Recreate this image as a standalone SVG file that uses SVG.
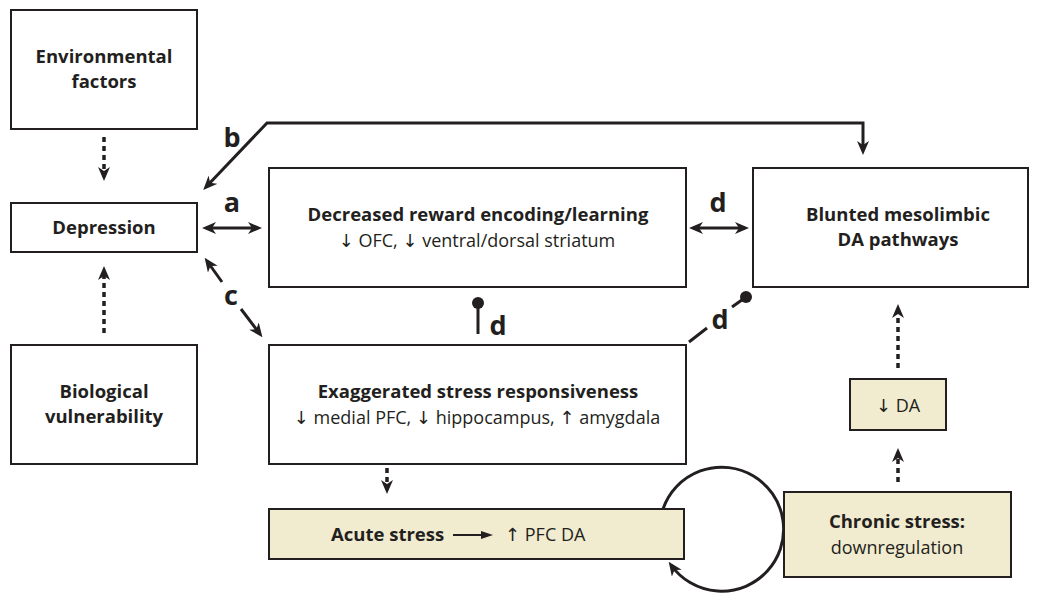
<svg xmlns="http://www.w3.org/2000/svg" width="1038" height="596" viewBox="0 0 1038 596">
<defs>
<style>
.box{fill:#ffffff;stroke:#231f20;stroke-width:2}
.tan{fill:#f1ebcf;stroke:#231f20;stroke-width:2}
.t{font-family:"Open Sans","Liberation Sans",sans-serif;fill:#231f20;text-anchor:middle}
.b{font-weight:bold;font-size:18.5px}
.n{font-size:18px}
.ar{font-family:"DejaVu Sans",sans-serif;font-size:18px}
.lbl{font-family:"Open Sans","Liberation Sans",sans-serif;font-weight:bold;font-size:27px;fill:#231f20;text-anchor:middle}
.c{fill:none;stroke:#231f20;stroke-width:3}
.dot{fill:none;stroke:#231f20;stroke-width:3.5;stroke-dasharray:5 4}
</style>
<marker id="ah" viewBox="0 0 14 12" refX="10" refY="6" markerWidth="14" markerHeight="12" markerUnits="userSpaceOnUse" orient="auto-start-reverse">
<path d="M0,0 L14,6 L0,12 L4,6 z" fill="#231f20"/>
</marker>
</defs>

<g id="connectors">
<path class="dot" d="M104 137 V177" marker-end="url(#ah)"/>
<path class="dot" d="M104 333 V270" marker-end="url(#ah)"/>
<path class="c" d="M206 187 L267 123 H863 V151" marker-start="url(#ah)" marker-end="url(#ah)"/>
<path class="c" d="M206 228 H258" marker-start="url(#ah)" marker-end="url(#ah)"/>
<path class="c" d="M693 228 H745" marker-start="url(#ah)" marker-end="url(#ah)"/>
<path class="c" d="M207 261 L222 282" marker-start="url(#ah)"/>
<path class="c" d="M241 309 L260 334" marker-end="url(#ah)"/>
<path class="c" d="M478 303 V334"/>
<circle cx="478" cy="303" r="6" fill="#231f20"/>
<path class="c" d="M689 342 L707 328"/>
<path class="c" d="M732 307 L746 297"/>
<circle cx="746" cy="297" r="6" fill="#231f20"/>
<path class="dot" d="M387 468 V490" marker-end="url(#ah)"/>
<path class="dot" d="M898 368 V308" marker-end="url(#ah)"/>
<path class="dot" d="M898 482 V452" marker-end="url(#ah)"/>
<path class="c" d="M663 509 A62 62 0 1 1 671 565" marker-end="url(#ah)"/>
<text class="lbl" x="232" y="147">b</text>
<text class="lbl" x="232" y="212">a</text>
<text class="lbl" x="718" y="212">d</text>
<text class="lbl" x="231" y="305">c</text>
<text class="lbl" x="498" y="335">d</text>
<text class="lbl" x="720" y="329">d</text>
</g>

<g id="env">
<rect class="box" x="11" y="10" width="186" height="119"/>
<text class="t b" x="104" y="63">Environmental</text>
<text class="t b" x="104" y="88">factors</text>
</g>
<g id="depression">
<rect class="box" x="11" y="203" width="186" height="49"/>
<text class="t b" x="104" y="234">Depression</text>
</g>
<g id="bio">
<rect class="box" x="11" y="345" width="186" height="119"/>
<text class="t b" x="104" y="398">Biological</text>
<text class="t b" x="104" y="423">vulnerability</text>
</g>
<g id="reward">
<rect class="box" x="269" y="168" width="417" height="119"/>
<text class="t b" x="478" y="221">Decreased reward encoding/learning</text>
<text class="t n" x="477" y="247"><tspan class="ar">↓</tspan> OFC, <tspan class="ar">↓</tspan> ventral/dorsal striatum</text>
</g>
<g id="blunted">
<rect class="box" x="753" y="168" width="275" height="119"/>
<text class="t b" x="898" y="221">Blunted mesolimbic</text>
<text class="t b" x="898" y="246">DA pathways</text>
</g>
<g id="stress">
<rect class="box" x="269" y="345" width="417" height="119"/>
<text class="t b" x="478" y="398">Exaggerated stress responsiveness</text>
<text class="t n" x="477" y="424"><tspan class="ar">↓</tspan> medial PFC, <tspan class="ar">↓</tspan> hippocampus, <tspan class="ar">↑</tspan> amygdala</text>
</g>
<g id="acute">
<rect class="tan" x="269" y="509" width="415" height="50"/>
<text class="t b" x="331" y="541" style="text-anchor:start">Acute stress</text>
<path d="M453 535 H482" stroke="#231f20" stroke-width="2"/>
<path d="M481 531 L493 535 L481 539 z" fill="#231f20"/>
<text class="t n" x="505" y="541" style="text-anchor:start"><tspan class="ar">↑</tspan> PFC DA</text>
</g>
<g id="da">
<rect class="tan" x="850" y="379" width="96" height="51"/>
<text class="t n" x="898" y="412"><tspan class="ar">↓</tspan> DA</text>
</g>
<g id="chronic">
<rect class="tan" x="784" y="492" width="227" height="85"/>
<text class="t b" x="897" y="528">Chronic stress:</text>
<text class="t n" x="897" y="554">downregulation</text>
</g>
</svg>
